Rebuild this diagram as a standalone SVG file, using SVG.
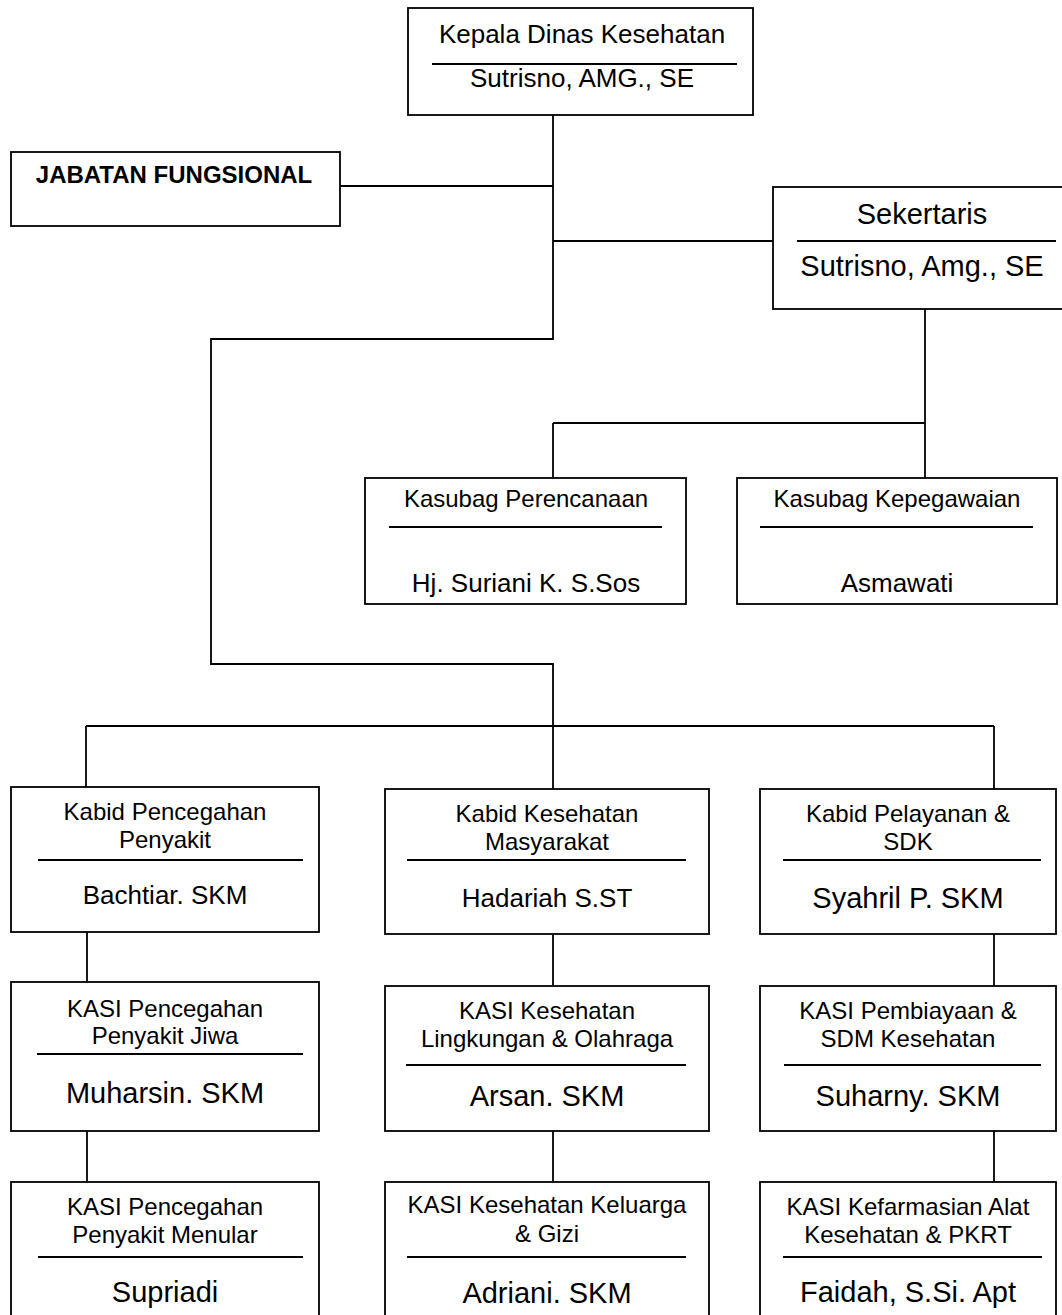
<svg xmlns="http://www.w3.org/2000/svg" width="1062" height="1315" viewBox="0 0 1062 1315">
<style>
.box{fill:#fff;stroke:#000;stroke-width:1.8}
.sep{stroke:#000;stroke-width:1.8}
.ln{fill:none;stroke:#000;stroke-width:1.8}
text{font-family:"Liberation Sans",Arial,sans-serif;fill:#000;text-anchor:middle}
.t24{font-size:24px}
.t26{font-size:26px}
.t29{font-size:29px}
.b{font-weight:bold;font-size:24px}
</style>
<rect width="1062" height="1315" fill="#fff"/>
<g id="connectors" class="ln">
<path d="M553 115 V339 H211 V664 H553 V726"/>
<path d="M340 186 H553"/>
<path d="M553 241 H773"/>
<path d="M86 726 H994"/>
<path d="M86 726 V787"/>
<path d="M553 726 V789"/>
<path d="M994 726 V789"/>
<path d="M925 309 V478"/>
<path d="M553 423 H925"/>
<path d="M553 423 V478"/>
<path d="M87 932 V982"/>
<path d="M87 1131 V1182"/>
<path d="M553 934 V986"/>
<path d="M553 1131 V1182"/>
<path d="M994 934 V986"/>
<path d="M994 1131 V1182"/>
</g>
<g id="kepala">
<rect class="box" x="408" y="8" width="345" height="107"/>
<text class="t26" x="582" y="43">Kepala Dinas Kesehatan</text>
<line class="sep" x1="432" y1="64" x2="737" y2="64"/>
<text class="t26" x="582" y="87">Sutrisno, AMG., SE</text>
</g>
<g id="jabatan">
<rect class="box" x="11" y="152" width="329" height="74"/>
<text class="b" x="174" y="183">JABATAN FUNGSIONAL</text>
</g>
<g id="sekertaris">
<rect class="box" x="773" y="187" width="298" height="122"/>
<text class="t29" x="922" y="224">Sekertaris</text>
<line class="sep" x1="797" y1="241" x2="1056" y2="241"/>
<text class="t29" x="922" y="276">Sutrisno, Amg., SE</text>
</g>
<g id="kasubag-perencanaan">
<rect class="box" x="365" y="478" width="321" height="126"/>
<text class="t24" x="526" y="507">Kasubag Perencanaan</text>
<line class="sep" x1="389" y1="527" x2="662" y2="527"/>
<text class="t26" x="526" y="592">Hj. Suriani K. S.Sos</text>
</g>
<g id="kasubag-kepegawaian">
<rect class="box" x="737" y="478" width="320" height="126"/>
<text class="t24" x="897" y="507">Kasubag Kepegawaian</text>
<line class="sep" x1="760" y1="527" x2="1033" y2="527"/>
<text class="t26" x="897" y="592">Asmawati</text>
</g>
<g id="kabid-pencegahan">
<rect class="box" x="11" y="787" width="308" height="145"/>
<text class="t24" x="165" y="820">Kabid Pencegahan</text>
<text class="t24" x="165" y="848">Penyakit</text>
<line class="sep" x1="38" y1="860" x2="303" y2="860"/>
<text class="t26" x="165" y="904">Bachtiar. SKM</text>
</g>
<g id="kabid-kesmas">
<rect class="box" x="385" y="789" width="324" height="145"/>
<text class="t24" x="547" y="822">Kabid Kesehatan</text>
<text class="t24" x="547" y="850">Masyarakat</text>
<line class="sep" x1="407" y1="860" x2="686" y2="860"/>
<text class="t26" x="547" y="907">Hadariah S.ST</text>
</g>
<g id="kabid-pelayanan">
<rect class="box" x="760" y="789" width="296" height="145"/>
<text class="t24" x="908" y="822">Kabid Pelayanan &amp;</text>
<text class="t24" x="908" y="850">SDK</text>
<line class="sep" x1="783" y1="860" x2="1041" y2="860"/>
<text class="t29" x="908" y="908">Syahril P. SKM</text>
</g>
<g id="kasi-jiwa">
<rect class="box" x="11" y="982" width="308" height="149"/>
<text class="t24" x="165" y="1017">KASI Pencegahan</text>
<text class="t24" x="165" y="1044">Penyakit Jiwa</text>
<line class="sep" x1="37" y1="1054" x2="303" y2="1054"/>
<text class="t29" x="165" y="1103">Muharsin. SKM</text>
</g>
<g id="kasi-kesling">
<rect class="box" x="385" y="986" width="324" height="145"/>
<text class="t24" x="547" y="1019">KASI Kesehatan</text>
<text class="t24" x="547" y="1047">Lingkungan &amp; Olahraga</text>
<line class="sep" x1="406" y1="1065" x2="686" y2="1065"/>
<text class="t29" x="547" y="1106">Arsan. SKM</text>
</g>
<g id="kasi-sdm">
<rect class="box" x="760" y="986" width="296" height="145"/>
<text class="t24" x="908" y="1019">KASI Pembiayaan &amp;</text>
<text class="t24" x="908" y="1047">SDM Kesehatan</text>
<line class="sep" x1="784" y1="1065" x2="1041" y2="1065"/>
<text class="t29" x="908" y="1106">Suharny. SKM</text>
</g>
<g id="kasi-menular">
<rect class="box" x="11" y="1182" width="308" height="150"/>
<text class="t24" x="165" y="1215">KASI Pencegahan</text>
<text class="t24" x="165" y="1243">Penyakit Menular</text>
<line class="sep" x1="38" y1="1257" x2="303" y2="1257"/>
<text class="t29" x="165" y="1302">Supriadi</text>
</g>
<g id="kasi-gizi">
<rect class="box" x="385" y="1182" width="324" height="150"/>
<text class="t24" x="547" y="1213">KASI Kesehatan Keluarga</text>
<text class="t24" x="547" y="1242">&amp; Gizi</text>
<line class="sep" x1="407" y1="1257" x2="686" y2="1257"/>
<text class="t29" x="547" y="1303">Adriani. SKM</text>
</g>
<g id="kasi-farmasi">
<rect class="box" x="760" y="1182" width="296" height="150"/>
<text class="t24" x="908" y="1215">KASI Kefarmasian Alat</text>
<text class="t24" x="908" y="1243">Kesehatan &amp; PKRT</text>
<line class="sep" x1="783" y1="1257" x2="1042" y2="1257"/>
<text class="t29" x="908" y="1302">Faidah, S.Si. Apt</text>
</g>
</svg>
